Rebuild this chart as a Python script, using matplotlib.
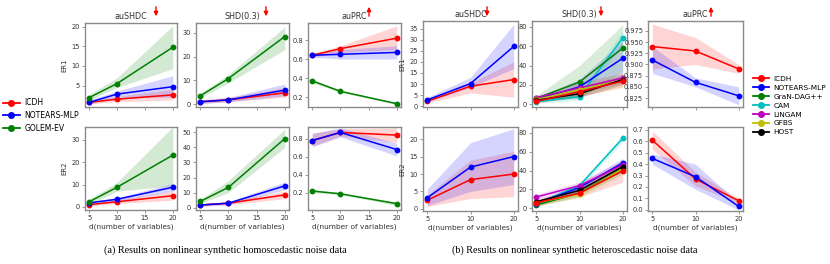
import matplotlib
matplotlib.use("Agg")
import matplotlib.pyplot as plt
import numpy as np

W, H = 830, 264
fig = plt.figure(figsize=(W / 100, H / 100), dpi=100)

# ---------------- data ----------------
d_vals = [5, 10, 20]
metrics = ["auSHDC", "SHD(0.3)", "auPRC"]
metric_dirs = ["down", "down", "up"]
row_labels = ["ER1", "ER2"]
xlabel = "d(number of variables)"

methods_a = ["ICDH", "NOTEARS-MLP", "GOLEM-EV"]
colors_a = ["red", "blue", "green"]

# homoscedastic: mean, low, high for [ER1 auSHDC, ER1 SHD, ER1 auPRC, ER2 auSHDC, ER2 SHD, ER2 auPRC]
a_icdh_mean = [[0.7, 1.5, 2.6], [1.0, 1.8, 4.8], [0.64, 0.71, 0.82],
               [1.0, 2.3, 5.0], [1.8, 3.0, 8.5], [0.78, 0.87, 0.84]]
a_icdh_low = [[0.3, 0.9, 1.3], [0.3, 1.0, 3.0], [0.62, 0.67, 0.70],
              [0.4, 1.5, 3.0], [1.0, 2.0, 6.0], [0.72, 0.83, 0.76]]
a_icdh_high = [[1.2, 2.2, 4.0], [1.8, 2.8, 7.0], [0.66, 0.74, 0.95],
               [1.6, 3.2, 7.0], [2.6, 4.2, 11.0], [0.86, 0.91, 0.92]]
a_notears_mean = [[0.7, 2.8, 4.7], [1.0, 1.8, 5.9], [0.64, 0.65, 0.67],
                  [1.8, 3.4, 8.8], [1.8, 3.0, 14.5], [0.78, 0.87, 0.68]]
a_notears_low = [[0.3, 2.0, 2.0], [0.3, 1.0, 3.5], [0.62, 0.60, 0.60],
                 [1.2, 2.6, 7.0], [1.0, 2.0, 12.0], [0.71, 0.82, 0.61]]
a_notears_high = [[1.3, 3.6, 7.5], [1.8, 2.8, 8.5], [0.66, 0.70, 0.74],
                  [2.4, 4.2, 10.5], [2.6, 4.0, 17.0], [0.86, 0.92, 0.75]]
a_golem_mean = [[1.9, 5.5, 14.8], [3.5, 10.8, 28.5], [0.37, 0.26, 0.13],
                [2.3, 8.8, 23.2], [4.2, 13.5, 45.8], [0.22, 0.19, 0.08]]
a_golem_low = [[1.2, 4.5, 9.3], [2.5, 9.0, 23.0], [0.35, 0.25, 0.12],
               [1.0, 7.0, 9.5], [3.0, 10.0, 40.0], [0.20, 0.18, 0.06]]
a_golem_high = [[2.7, 7.0, 20.3], [4.5, 12.5, 32.5], [0.39, 0.27, 0.14],
                [3.5, 11.0, 36.0], [5.5, 18.0, 52.0], [0.24, 0.20, 0.10]]

methods_b = ["ICDH", "NOTEARS-MLP", "GraN-DAG++", "CAM", "LiNGAM", "GFBS", "HOST"]
colors_b = ["red", "blue", "green", "c", "m", "y", "k"]

# heteroscedastic ER1/ER2 auSHDC (ICDH, NOTEARS-MLP)
b_shdc_er1_mean = [[2.2, 9.0, 12.0], [2.8, 10.2, 27.0]]
b_shdc_er1_low = [[1.5, 6.0, 4.0], [2.0, 8.5, 17.0]]
b_shdc_er1_high = [[3.0, 10.5, 20.0], [4.0, 13.0, 37.0]]
b_shdc_er2_mean = [[2.5, 8.4, 10.0], [3.2, 12.0, 15.0]]
b_shdc_er2_low = [[0.7, 3.0, 3.5], [1.0, 5.0, 7.0]]
b_shdc_er2_high = [[4.0, 14.0, 16.5], [5.7, 19.0, 23.0]]

# heteroscedastic SHD(0.3), 7 methods
b_shd_er1_mean = [[3.0, 13.0, 24.0], [5.0, 18.0, 47.5], [6.0, 23.0, 58.0],
                  [2.5, 8.0, 68.5], [7.0, 17.0, 27.0], [5.0, 15.0, 25.0],
                  [4.0, 11.0, 25.5]]
b_shd_er1_sd = [[2.0, 5.0, 6.0], [2.0, 8.0, 18.0], [3.0, 17.0, 24.0],
                [1.5, 4.0, 7.0], [2.0, 6.0, 5.0], [2.0, 6.0, 8.0],
                [1.5, 4.0, 5.0]]
b_shd_er2_mean = [[6.0, 16.0, 39.5], [5.0, 22.0, 48.0], [3.5, 16.0, 42.0],
                  [5.0, 24.0, 74.0], [12.0, 24.0, 46.0], [6.0, 15.0, 42.0],
                  [7.0, 19.0, 44.0]]
b_shd_er2_sd = [[3.0, 4.0, 12.0], [2.0, 4.0, 5.0], [2.0, 3.0, 5.0],
                [2.0, 3.0, 4.0], [3.0, 4.0, 5.0], [3.0, 4.0, 6.0],
                [2.0, 3.0, 4.0]]

# heteroscedastic auPRC (ICDH, NOTEARS-MLP)
b_prc_er1_mean = [[0.94, 0.93, 0.89], [0.91, 0.86, 0.83]]
b_prc_er1_low = [[0.89, 0.90, 0.88], [0.88, 0.85, 0.81]]
b_prc_er1_high = [[0.99, 0.96, 0.90], [0.94, 0.87, 0.85]]
b_prc_er2_mean = [[0.61, 0.27, 0.08], [0.45, 0.29, 0.03]]
b_prc_er2_low = [[0.53, 0.21, 0.06], [0.40, 0.18, 0.00]]
b_prc_er2_high = [[0.69, 0.33, 0.10], [0.49, 0.40, 0.06]]

captions = ["(a) Results on nonlinear synthetic homoscedastic noise data",
            "(b) Results on nonlinear synthetic heteroscedastic noise data"]

# ---------------- layout helpers ----------------
def add_ax(l, t, r, b):
    return fig.add_axes([l / W, 1 - b / H, (r - l) / W, (b - t) / H])

SPINE = "#8a8a8a"
TXT = "#333333"

def style(ax):
    for s in ax.spines.values():
        s.set_color(SPINE)
        s.set_linewidth(1.0)
    ax.tick_params(labelsize=4.8, colors=TXT, length=2, width=0.6,
                   pad=1.5)
    ax.tick_params(color=SPINE)

def plot_series(ax, xs, mean, low, high, color):
    ax.fill_between(xs, low, high, color=color, alpha=0.17, lw=0)
    ax.plot(xs, mean, color=color, marker="o", ms=3.2, lw=1.1)

def arrow(xpx, direction):
    y0, y1 = 4 / H, 19 / H
    if direction == "down":
        start, end = (xpx / W, 1 - y0), (xpx / W, 1 - y1)
    else:
        start, end = (xpx / W, 1 - y1), (xpx / W, 1 - y0)
    fig.add_artist(matplotlib.patches.FancyArrowPatch(
        start, end, transform=fig.transFigure, arrowstyle="-|>",
        mutation_scale=6, color="red", lw=1.0))

cols_a = [(85, 177), (196, 289), (308, 401)]
cols_b = [(423, 518), (532, 627), (648, 743)]
rows_a = [(23, 107), (127, 210)]
rows_b = [(21, 107), (127, 211)]
arrows_a = [156, 266, 369]
arrows_b = [487, 601, 711]

# ---------------- group (a) ----------------
ylims_a = [(-0.5, 21), (-1.2, 34.2), (0.095, 0.98),
           (-1.4, 35.8), (-1.5, 53.5), (0.01, 0.93)]
yticks_a = [[5, 10, 15, 20], [0, 10, 20, 30], [0.2, 0.4, 0.6, 0.8],
            [0, 10, 20, 30], [0, 10, 20, 30, 40, 50], [0.2, 0.4, 0.6, 0.8]]
means_a = [a_icdh_mean, a_notears_mean, a_golem_mean]
lows_a = [a_icdh_low, a_notears_low, a_golem_low]
highs_a = [a_icdh_high, a_notears_high, a_golem_high]

for r in range(2):
    for c in range(3):
        k = r * 3 + c
        ax = add_ax(cols_a[c][0], rows_a[r][0], cols_a[c][1], rows_a[r][1])
        style(ax)
        for m in range(3):
            plot_series(ax, d_vals, means_a[m][k], lows_a[m][k], highs_a[m][k], colors_a[m])
        ax.set_xlim(4.25, 20.75)
        ax.set_xticks([5, 10, 15, 20])
        ax.set_ylim(*ylims_a[k])
        ax.set_yticks(yticks_a[k])
        ax.set_yticklabels([f"{v:g}" if isinstance(v, int) else f"{v:.1f}" for v in yticks_a[k]])
        if r == 0:
            ax.set_xticklabels([])
            ax.set_title(metrics[c], fontsize=5.8, color=TXT, pad=3)
        else:
            ax.set_xlabel(xlabel, fontsize=5.3, color=TXT, labelpad=2)
        if c == 0:
            ax.set_ylabel(row_labels[r], fontsize=5, color=TXT, labelpad=3)
for c in range(3):
    arrow(arrows_a[c], metric_dirs[c])

# legend (a)
handles_a = [matplotlib.lines.Line2D([], [], color=colors_a[m], marker="o", ms=4, lw=1.3)
             for m in range(3)]
fig.legend(handles_a, methods_a, loc="center left",
           bbox_to_anchor=(0.0, 1 - 115.5 / H), frameon=False,
           fontsize=5.5, handlelength=2.2, handletextpad=0.6, labelspacing=0.5,
           borderaxespad=0)

# ---------------- group (b) ----------------
xs_b = [0, 1, 2]
for r in range(2):
    # auSHDC
    ax = add_ax(cols_b[0][0], rows_b[r][0], cols_b[0][1], rows_b[r][1])
    style(ax)
    mean = [b_shdc_er1_mean, b_shdc_er2_mean][r]
    low = [b_shdc_er1_low, b_shdc_er2_low][r]
    high = [b_shdc_er1_high, b_shdc_er2_high][r]
    for m in range(2):
        plot_series(ax, xs_b, mean[m], low[m], high[m], colors_b[m])
    if r == 0:
        ax.set_ylim(-0.4, 38.5)
        ax.set_yticks([0, 5, 10, 15, 20, 25, 30, 35])
    else:
        ax.set_ylim(-0.6, 23.5)
        ax.set_yticks([0, 5, 10, 15, 20])
    ax.set_ylabel(row_labels[r], fontsize=5, color=TXT, labelpad=3)

    # SHD(0.3)
    ax2 = add_ax(cols_b[1][0], rows_b[r][0], cols_b[1][1], rows_b[r][1])
    style(ax2)
    mean = [b_shd_er1_mean, b_shd_er2_mean][r]
    sd = [b_shd_er1_sd, b_shd_er2_sd][r]
    for m in range(7):
        mu = np.array(mean[m]); s = np.array(sd[m])
        ax2.fill_between(xs_b, mu - s, mu + s, color=colors_b[m], alpha=0.15, lw=0)
    for m in [3, 2, 1, 4, 5, 6, 0]:
        ax2.plot(xs_b, mean[m], color=colors_b[m], marker="o", ms=3.2, lw=1.1)
    ax2.set_ylim(-2.8, 86)
    ax2.set_yticks([0, 20, 40, 60, 80])

    # auPRC
    ax3 = add_ax(cols_b[2][0], rows_b[r][0], cols_b[2][1], rows_b[r][1])
    style(ax3)
    mean = [b_prc_er1_mean, b_prc_er2_mean][r]
    low = [b_prc_er1_low, b_prc_er2_low][r]
    high = [b_prc_er1_high, b_prc_er2_high][r]
    for m in range(2):
        plot_series(ax3, xs_b, mean[m], low[m], high[m], colors_b[m])
    if r == 0:
        ax3.set_ylim(0.805, 0.997)
        yt = [0.825, 0.85, 0.875, 0.9, 0.925, 0.95, 0.975]
        ax3.set_yticks(yt)
        ax3.set_yticklabels([f"{v:.3f}" for v in yt])
    else:
        ax3.set_ylim(-0.01, 0.725)
        yt = [0.0, 0.1, 0.2, 0.3, 0.4, 0.5, 0.6, 0.7]
        ax3.set_yticks(yt)
        ax3.set_yticklabels([f"{v:.1f}" for v in yt])

    for c, a in enumerate([ax, ax2, ax3]):
        a.set_xlim(-0.1, 2.1)
        a.set_xticks(xs_b)
        if r == 0:
            a.set_xticklabels([])
            a.set_title(metrics[c], fontsize=5.8, color=TXT, pad=3)
        else:
            a.set_xticklabels([str(v) for v in d_vals])
            a.set_xlabel(xlabel, fontsize=5.3, color=TXT, labelpad=2)
for c in range(3):
    arrow(arrows_b[c], metric_dirs[c])

handles_b = [matplotlib.lines.Line2D([], [], color=colors_b[m], marker="o", ms=4, lw=1.3)
             for m in range(7)]
fig.legend(handles_b, methods_b, loc="center left",
           bbox_to_anchor=(750 / W, 1 - 105.5 / H), frameon=False,
           fontsize=5.3, handlelength=2.2, handletextpad=0.6, labelspacing=0.38,
           borderaxespad=0)

# captions
fig.text(225 / W, 1 - 250 / H, captions[0], ha="center", va="center",
         fontsize=7.3, family="Liberation Serif", color="black")
fig.text(575 / W, 1 - 250 / H, captions[1], ha="center", va="center",
         fontsize=7.3, family="Liberation Serif", color="black")

fig.savefig("out.png", dpi=100, facecolor="white")
